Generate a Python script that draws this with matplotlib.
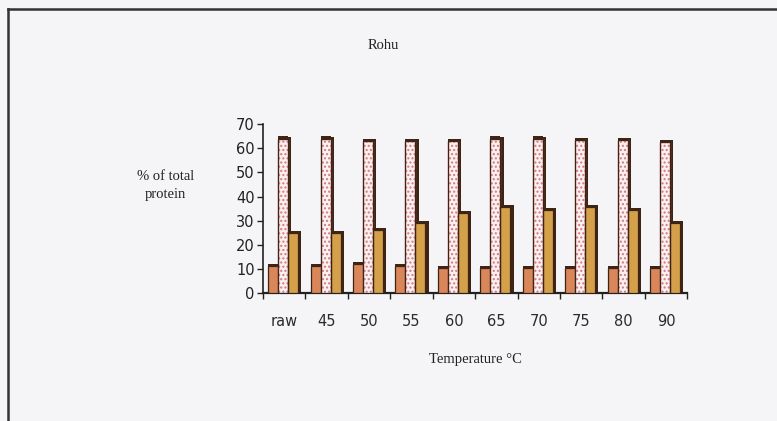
import matplotlib
matplotlib.use("Agg")
import matplotlib.pyplot as plt
from matplotlib.lines import Line2D
import numpy as np

# protein fractions (% of total protein) by heating temperature, rohu muscle
temps = ["raw", "45", "50", "55", "60", "65", "70", "75", "80", "90"]
frac_a = [11, 11, 12, 11, 10.5, 10.5, 10.5, 10.5, 10.5, 10.5]
frac_b = [64, 64, 63, 63, 63, 64, 64, 63.5, 63.5, 62.5]
frac_c = [25, 25, 26, 29, 33, 35.5, 34.5, 35.5, 34.5, 29]

BG = "#f5f4f7"
EDGE = "#3d2415"

fig = plt.figure(figsize=(7.77, 4.21), dpi=100, facecolor=BG)
ax = fig.add_axes([0.3385, 0.304, 0.546, 0.401], facecolor=BG)

x = np.arange(len(temps))
w = 0.236
side = 0.075
series = [
    (frac_a, -0.26, "#d8865a", None),
    (frac_b, -0.024, "#fbf0f0", "...."),
    (frac_c, 0.212, "#d5a04a", None),
]
for vals, off, fc, hatch in series:
    vals = np.asarray(vals, dtype=float)
    # dark right-hand face for the pseudo-3D look
    ax.bar(x + off + w / 2, vals + 0.8, width=side, align="edge",
           color=EDGE, lw=0, zorder=2)
    b = ax.bar(x + off, vals, width=w, color=fc, edgecolor=EDGE, lw=0.9,
               hatch=hatch, zorder=3)
    if hatch:
        for p in b:
            p.set_edgecolor("#d4787f")
        ax.bar(x + off, vals, width=w, fill=False, edgecolor=EDGE, lw=0.9,
               zorder=4)
    # top cap
    ax.bar(x + off, 0.9, bottom=vals, width=w, color=EDGE, lw=0, zorder=4)

ax.set_xlim(-0.5, 9.5)
ax.set_ylim(0, 70)
ax.set_yticks(range(0, 71, 10))
ax.set_xticks(np.arange(-0.5, 10, 1))
ax.set_xticklabels([])
for i, t in enumerate(temps):
    ax.text(i, -12, t, ha="center", va="center", fontsize=10.5,
            family="DejaVu Sans", color="#2b2b2b")

for s in ("top", "right"):
    ax.spines[s].set_visible(False)
ax.spines["left"].set_color("#222222")
ax.spines["left"].set_linewidth(1.2)
ax.spines["bottom"].set_color("#222222")
ax.spines["bottom"].set_linewidth(1.6)
ax.tick_params(axis="y", direction="out", length=4, width=1, pad=2,
               labelsize=10.5, colors="#222222")
ax.tick_params(axis="x", direction="out", length=4, width=1, colors="#222222")

fig.text(0.493, 0.891, "Rohu", ha="center", va="center", fontsize=10.5,
         family="Liberation Serif", color="#222222")
fig.text(0.213, 0.56, "% of total\nprotein", ha="center", va="center",
         fontsize=10.5, family="Liberation Serif", color="#222222",
         linespacing=1.5)
fig.text(0.612, 0.145, "Temperature \u00b0C", ha="center", va="center",
         fontsize=10.5, family="Liberation Serif", color="#222222")

# frame around the chart
fig.add_artist(Line2D([0.0097, 0.0097], [0.0, 0.979], color="#333333",
                      lw=1.8, transform=fig.transFigure))
fig.add_artist(Line2D([0.0097, 1.0], [0.979, 0.979], color="#333333",
                      lw=1.8, transform=fig.transFigure))

fig.savefig("out.png", dpi=100, facecolor=BG)
